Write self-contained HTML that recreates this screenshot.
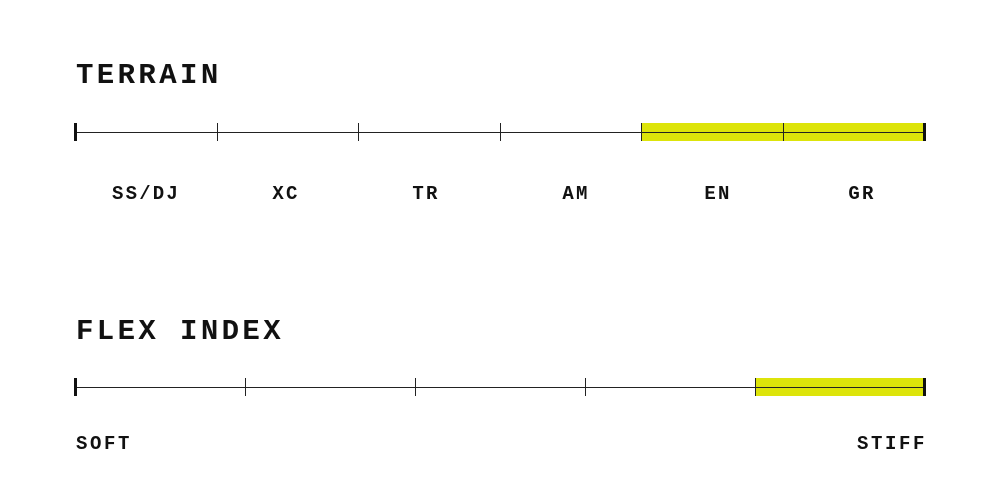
<!DOCTYPE html>
<html><head><style>body{margin:0;background:#fff}svg{display:block}</style></head><body>
<svg width="1001" height="501" viewBox="0 0 1001 501" xmlns="http://www.w3.org/2000/svg">
<rect width="1001" height="501" fill="#fff"/>
<g font-family="Liberation Mono, monospace" font-weight="bold" fill="#111">
<text x="76" y="83" font-size="29" letter-spacing="3.4">TERRAIN</text>
<text x="76" y="339" font-size="29" letter-spacing="3.4">FLEX INDEX</text>
<g font-size="19" letter-spacing="2.2" text-anchor="middle">
<text x="146" y="199">SS/DJ</text>
<text x="286" y="199">XC</text>
<text x="426" y="199">TR</text>
<text x="576" y="199">AM</text>
<text x="718" y="199">EN</text>
<text x="862" y="199">GR</text>
</g>
<text x="76" y="449" font-size="19" letter-spacing="2.6">SOFT</text>
<text x="927" y="449" font-size="19" letter-spacing="2.6" text-anchor="end">STIFF</text>
</g>
<rect x="641" y="123" width="284" height="18" fill="#dde40a"/>
<rect x="755" y="378" width="170" height="18" fill="#dde40a"/>
<g stroke="#222" stroke-width="1">
<line x1="75" y1="132.5" x2="925" y2="132.5"/>
<line x1="217.5" y1="123" x2="217.5" y2="141"/>
<line x1="358.5" y1="123" x2="358.5" y2="141"/>
<line x1="500.5" y1="123" x2="500.5" y2="141"/>
<line x1="641.5" y1="123" x2="641.5" y2="141"/>
<line x1="783.5" y1="123" x2="783.5" y2="141"/>
<line x1="75" y1="387.5" x2="925" y2="387.5"/>
<line x1="245.5" y1="378" x2="245.5" y2="396"/>
<line x1="415.5" y1="378" x2="415.5" y2="396"/>
<line x1="585.5" y1="378" x2="585.5" y2="396"/>
<line x1="755.5" y1="378" x2="755.5" y2="396"/>
</g>
<g fill="#111">
<rect x="74" y="123" width="3" height="18"/>
<rect x="923" y="123" width="3" height="18"/>
<rect x="74" y="378" width="3" height="18"/>
<rect x="923" y="378" width="3" height="18"/>
</g>
</svg>
</body></html>
